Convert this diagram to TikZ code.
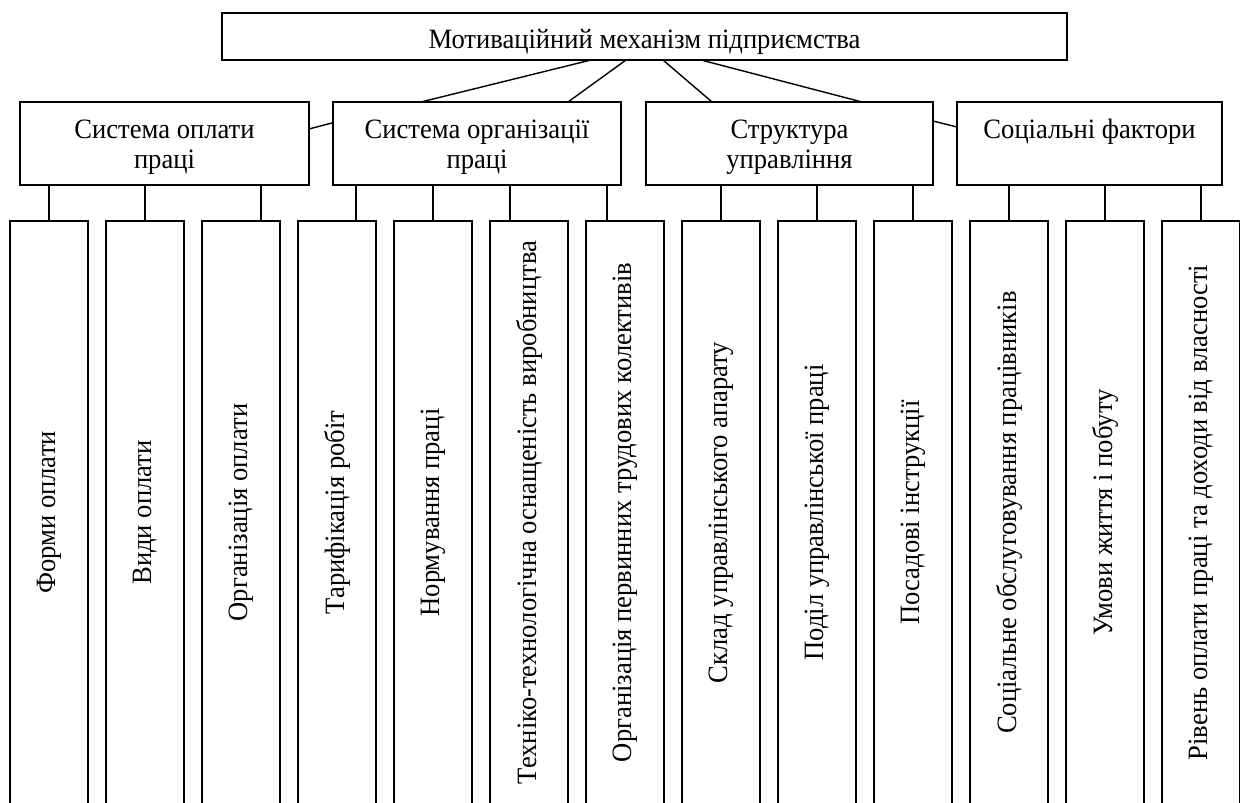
\documentclass[tikz,border=0pt]{standalone}
\usepackage{fontspec}
\setmainfont[FakeStretch=0.95]{Liberation Serif}
\usepackage{graphicx}
\usetikzlibrary{positioning}
\tikzset{
	top node/.style={draw,outer sep=0pt,inner sep=0pt,minimum width=422.5pt,minimum height=23.5pt,
		execute at begin node=\rule{0pt}{14.5pt}},
	mid node/.style={draw,outer sep=0pt,inner sep=2pt,align=center,minimum width=#1,minimum height=41.5pt,
		text height=29.5pt,text depth=4pt},
	leaf/.style={draw,outer sep=0pt,inner sep=0pt,minimum width=39pt,minimum height=291.5pt}
}

\begin{document}
\begin{tikzpicture}[x=0.5pt,y=-0.5pt,line width=0.7pt,font=\fontsize{14pt}{15pt}\selectfont]
	\clip (0,0) rectangle (1240,802);
	\node [top node] (m) at (644.5,36.5) {Мотиваційний механізм підприємства};
	\node [mid node=144.5pt] (s1) at (164.5,143.5) {Система оплати\\праці};
	\node [mid node=144pt] (s2) at (477,143.5) {Система організації\\праці};
	\node [mid node=143.5pt] (s3) at (789.5,143.5) {Структура\\управління};
	\node [mid node=132.5pt] (s4) at (1089.5,143.5) {Соціальні фактори\\\mbox{}};
	\node [leaf] (f1) at (49,512.5) {\rotatebox{90}{Форми оплати}};
	\node [leaf,right=9pt of f1] (f2) {\rotatebox{90}{Види оплати}};
	\node [leaf,right=9pt of f2] (f3) {\rotatebox{90}{Організація оплати}};
	\node [leaf,right=9pt of f3] (f4) {\rotatebox{90}{Тарифікація робіт}};
	\node [leaf,right=9pt of f4] (f5) {\rotatebox{90}{Нормування праці}};
	\node [leaf,right=9pt of f5] (f6) {\rotatebox{90}{Техніко-технологічна оснащеність виробництва}};
	\node [leaf,right=9pt of f6] (f7) {\rotatebox{90}{Організація первинних трудових колективів}};
	\node [leaf,right=9pt of f7] (f8) {\rotatebox{90}{Склад управлінського апарату}};
	\node [leaf,right=9pt of f8] (f9) {\rotatebox{90}{Поділ управлінської праці}};
	\node [leaf,right=9pt of f9] (f10) {\rotatebox{90}{Посадові інструкції}};
	\node [leaf,right=9pt of f10] (f11) {\rotatebox{90}{Соціальне обслуговування працівників}};
	\node [leaf,right=9pt of f11] (f12) {\rotatebox{90}{Умови життя і побуту}};
	\node [leaf,right=9pt of f12] (f13) {\rotatebox{90}{Рівень оплати праці та доходи від власності}};
	% top level
	\draw ([xshift=-26.75pt]m.south) -- ([xshift=-28pt]s2.north);
	\draw ([xshift=-9.25pt]m.south) -- ([xshift=45.5pt]s2.north);
	\draw ([xshift=9.25pt]m.south) -- ([xshift=-38.75pt]s3.north);
	\draw ([xshift=28.25pt]m.south) -- ([xshift=36.25pt]s3.north);
	\draw ([yshift=7.25pt]s1.east) -- ([yshift=10.4pt]s2.west);
	\draw ([yshift=11.25pt]s3.east) -- ([yshift=8.25pt]s4.west);
	% stubs
	\draw (f1.north) -- (f1.north |- s1.south);
	\draw (f2.north) -- (f2.north |- s1.south);
	\draw ([xshift=10pt]f3.north) -- ([xshift=10pt]f3.north |- s1.south);
	\draw ([xshift=9.5pt]f4.north) -- ([xshift=9.5pt]f4.north |- s2.south);
	\draw (f5.north) -- (f5.north |- s2.south);
	\draw ([xshift=-9.5pt]f6.north) -- ([xshift=-9.5pt]f6.north |- s2.south);
	\draw ([xshift=-9pt]f7.north) -- ([xshift=-9pt]f7.north |- s2.south);
	\draw (f8.north) -- (f8.north |- s3.south);
	\draw (f9.north) -- (f9.north |- s3.south);
	\draw (f10.north) -- (f10.north |- s3.south);
	\draw (f11.north) -- (f11.north |- s4.south);
	\draw (f12.north) -- (f12.north |- s4.south);
	\draw (f13.north) -- (f13.north |- s4.south);
\end{tikzpicture}
\end{document}
